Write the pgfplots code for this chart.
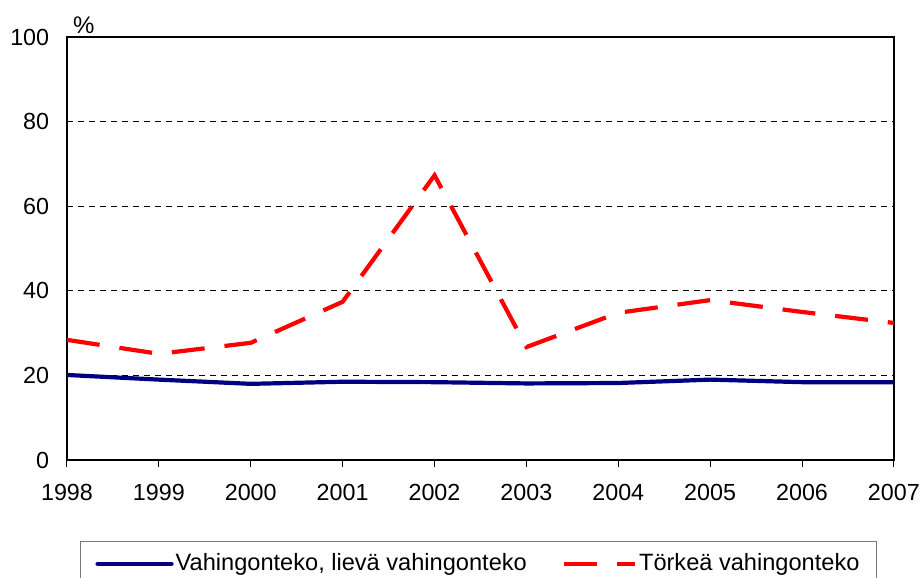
\documentclass[border=0pt]{standalone}
\usepackage{fontspec}
\setmainfont{Liberation Sans}
\usepackage{pgfplots}
\pgfplotsset{compat=1.18}
\definecolor{navyline}{RGB}{0,0,128}
\definecolor{redline}{RGB}{255,0,0}
\begin{document}
\fontsize{23pt}{27pt}\selectfont
\begin{tikzpicture}
\useasboundingbox (-67pt,-118pt) rectangle (855pt,460pt);
\begin{axis}[
  name=main,
  at={(0pt,0pt)}, anchor=south west,
  scale only axis, width=827pt, height=423pt,
  xmin=1998, xmax=2007, ymin=0, ymax=100,
  xtick={1998,1999,...,2007},
  ytick={0,20,40,60,80,100},
  xticklabel style={/pgf/number format/1000 sep={}, yshift=-9pt},
  x tick label style={/pgf/number format/1000 sep={}},
  yticklabel style={xshift=-10pt},
  /pgf/number format/assume math mode=true,
  tick label style={font=\fontsize{23.3pt}{27pt}\selectfont},
  xtick pos=bottom, xtick align=outside, major tick length=7pt,
  xtick style={black, line width=1pt},
  ytick style={draw=none},
  axis line style={black, line width=1.8pt},
  ymajorgrids,
  grid style={black, line width=0.8pt, dash pattern=on 6pt off 5pt},
  legend columns=2,
  legend style={at={(axis description cs:0.0157,-0.1915)}, anchor=north west,
    draw={rgb,255:red,120;green,120;blue,120}, line width=1pt,
    inner xsep=15pt, inner ysep=10pt,
    font=\fontsize{23.6pt}{27pt}\selectfont,
    nodes={inner sep=2pt},
    /tikz/every even column/.append style={column sep=33pt}},
  legend cell align=left,
]
\addplot[navyline, line width=4.2pt, line join=round,
  legend image code/.code={\draw[navyline, line width=4.2pt, line cap=round] (0pt,0pt) -- (74pt,0pt);}]
  coordinates {(1998,20.1) (1999,19.0) (2000,18.0) (2001,18.5) (2002,18.4)
               (2003,18.1) (2004,18.2) (2005,19.0) (2006,18.4) (2007,18.4)};
\addlegendentry{Vahingonteko, lievä vahingonteko}
\addplot[redline, line width=4.2pt, dash pattern=on 33pt off 20pt,
  legend image code/.code={\draw[redline, line width=4.2pt, dash pattern=on 33pt off 20pt] (0pt,0pt) -- (71pt,0pt);}]
  coordinates {(1998,28.4) (1999,25.1) (2000,27.7) (2001,37.4) (2002,67.3)
               (2003,26.7) (2004,34.8) (2005,37.8) (2006,35.0) (2007,32.4)};
\addlegendentry{Törkeä vahingonteko}
\end{axis}
\node[anchor=base west, inner sep=0pt, xshift=6pt, yshift=3pt,
  font=\fontsize{24pt}{27pt}\selectfont] at (main.north west) {\%};
\end{tikzpicture}
\end{document}
